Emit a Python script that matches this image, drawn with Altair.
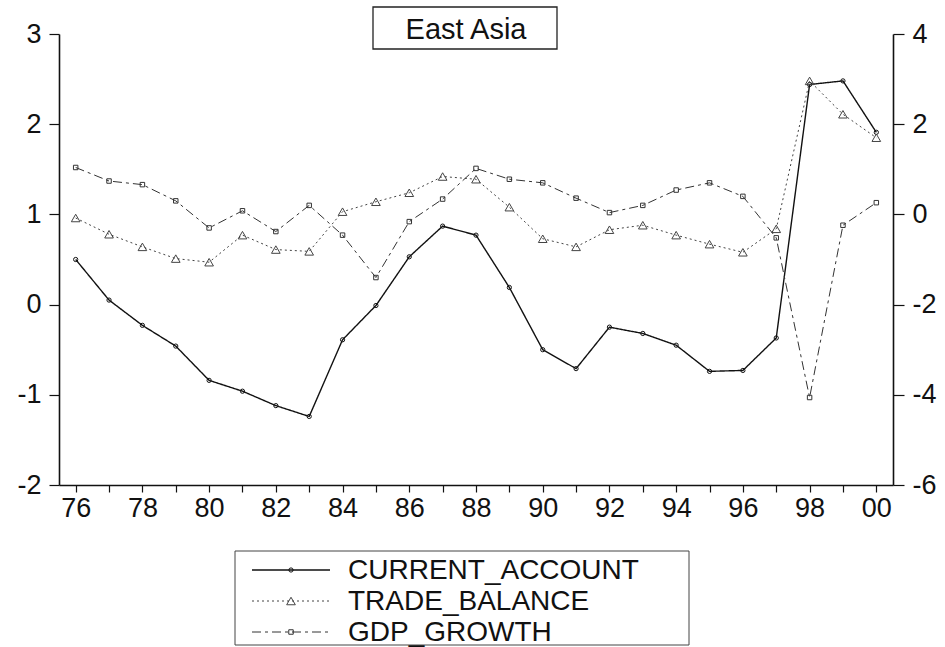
import altair as alt
import pandas as pd

# ---------------- data ----------------
years = list(range(1976, 2001))
series_names = ["CURRENT_ACCOUNT", "TRADE_BALANCE", "GDP_GROWTH"]
# left axis
current_account = [0.50, 0.05, -0.23, -0.46, -0.84, -0.96, -1.12, -1.24, -0.39, -0.01,
                   0.53, 0.87, 0.77, 0.19, -0.50, -0.71, -0.25, -0.32, -0.45, -0.74,
                   -0.73, -0.37, 2.44, 2.48, 1.91]
# right axis
trade_balance = [-0.08, -0.44, -0.72, -0.98, -1.06, -0.46, -0.78, -0.82, 0.06, 0.28,
                 0.48, 0.84, 0.78, 0.16, -0.54, -0.72, -0.34, -0.24, -0.46, -0.66,
                 -0.84, -0.32, 2.96, 2.22, 1.70]
gdp_growth = [1.04, 0.74, 0.66, 0.30, -0.30, 0.08, -0.38, 0.20, -0.46, -1.40,
              -0.16, 0.34, 1.02, 0.78, 0.70, 0.36, 0.04, 0.20, 0.54, 0.70,
              0.40, -0.52, -4.06, -0.24, 0.26]
left_ticks = [-2, -1, 0, 1, 2, 3]
right_ticks = [-6, -4, -2, 0, 2, 4]
chart_title = "East Asia"

df = pd.DataFrame({
    "year": years * 3,
    "series": [s for s in series_names for _ in years],
    "value": current_account + trade_balance + gdp_growth,
})
legend_df = pd.DataFrame({"series": series_names})
title_df = pd.DataFrame({"label": [chart_title]})

FONT = "Liberation Sans"
INK = "#111111"
W, H = 834, 451

axis_common = dict(
    title=None, grid=False, domainColor=INK, domainWidth=1.6,
    tickColor=INK, tickWidth=1.2, labelColor=INK, labelFont=FONT,
    labelFontSize=27, labelOverlap=False,
)

x_enc = alt.X(
    "year:Q",
    scale=alt.Scale(domain=[1975.5, 2000.5], nice=False, zero=False),
    axis=alt.Axis(
        values=years,
        labelExpr="datum.value % 2 == 0 ? slice(toString(datum.value), 2) : ''",
        tickSize=7, labelPadding=3, labelFlush=False, **axis_common,
    ),
)
left_y = alt.Y(
    "value:Q",
    scale=alt.Scale(domain=[-2, 3], nice=False, zero=False),
    axis=alt.Axis(orient="left", values=left_ticks, labelExpr="toString(datum.value)",
                  tickSize=10, labelPadding=8, **axis_common),
)
right_y = alt.Y(
    "value:Q",
    scale=alt.Scale(domain=[-6, 4], nice=False, zero=False),
    axis=alt.Axis(orient="right", values=right_ticks, labelExpr="toString(datum.value)",
                  tickSize=11, labelPadding=8, **axis_common),
)

base = alt.Chart(df)

styles = {
    "CURRENT_ACCOUNT": dict(dash=[1, 0], width=1.4, color="#111111", shape="circle", size=18),
    "TRADE_BALANCE": dict(dash=[2, 3], width=1.0, color="#444444", shape="triangle-up", size=75),
    "GDP_GROWTH": dict(dash=[9, 4, 3, 4], width=1.0, color="#333333", shape="square", size=20),
}


def series_layers(name, y_enc):
    st = styles[name]
    sub = base.transform_filter(alt.datum.series == name)
    line = sub.mark_line(color=st["color"], strokeWidth=st["width"],
                         strokeDash=st["dash"]).encode(x=x_enc, y=y_enc)
    pts = sub.mark_point(shape=st["shape"], filled=False, size=st["size"],
                         color=st["color"], strokeWidth=1, opacity=1).encode(x=x_enc, y=y_enc)
    return [line, pts]


left = alt.layer(*series_layers("CURRENT_ACCOUNT", left_y))
right = alt.layer(*(series_layers("TRADE_BALANCE", right_y) + series_layers("GDP_GROWTH", right_y)))

# title box
title_box = alt.Chart(title_df).mark_rect(fill="white", stroke="#222222", strokeWidth=1.3).encode(
    x=alt.value(314), x2=alt.value(498), y=alt.value(-27), y2=alt.value(15))
title_text = alt.Chart(title_df).mark_text(font=FONT, fontSize=29, align="center",
                                           baseline="alphabetic", color=INK).encode(
    x=alt.value(407), y=alt.value(5), text="label:N")

# legend
legend_layers = [
    alt.Chart(title_df).mark_rect(fill="white", stroke="#444444", strokeWidth=1).encode(
        x=alt.value(176), x2=alt.value(630), y=alt.value(517), y2=alt.value(611))
]
row_y = [536, 567, 598]
for i, name in enumerate(series_names):
    st = styles[name]
    ld = alt.Chart(legend_df).transform_filter(alt.datum.series == name)
    legend_layers.append(
        ld.mark_rule(color=st["color"], strokeWidth=st["width"], strokeDash=st["dash"]).encode(
            x=alt.value(193), x2=alt.value(271), y=alt.value(row_y[i])))
    legend_layers.append(
        ld.mark_point(shape=st["shape"], filled=False, size=st["size"], color=st["color"],
                      strokeWidth=1, opacity=1).encode(x=alt.value(232), y=alt.value(row_y[i])))
    legend_layers.append(
        ld.mark_text(font=FONT, fontSize=28, align="left", baseline="middle", color=INK).encode(
            x=alt.value(289), y=alt.value(row_y[i] + 1), text="series:N"))

chart = alt.layer(left, right, title_box, title_text, *legend_layers).resolve_scale(
    y="independent"
).properties(
    width=W, height=H,
    autosize=alt.AutoSizeParams(type="none"),
    padding={"left": 59, "top": 34, "right": 52, "bottom": 162},
    background="white",
).configure_view(strokeWidth=0)

chart.save("out.html", embed_options={"renderer": "svg", "actions": False})
